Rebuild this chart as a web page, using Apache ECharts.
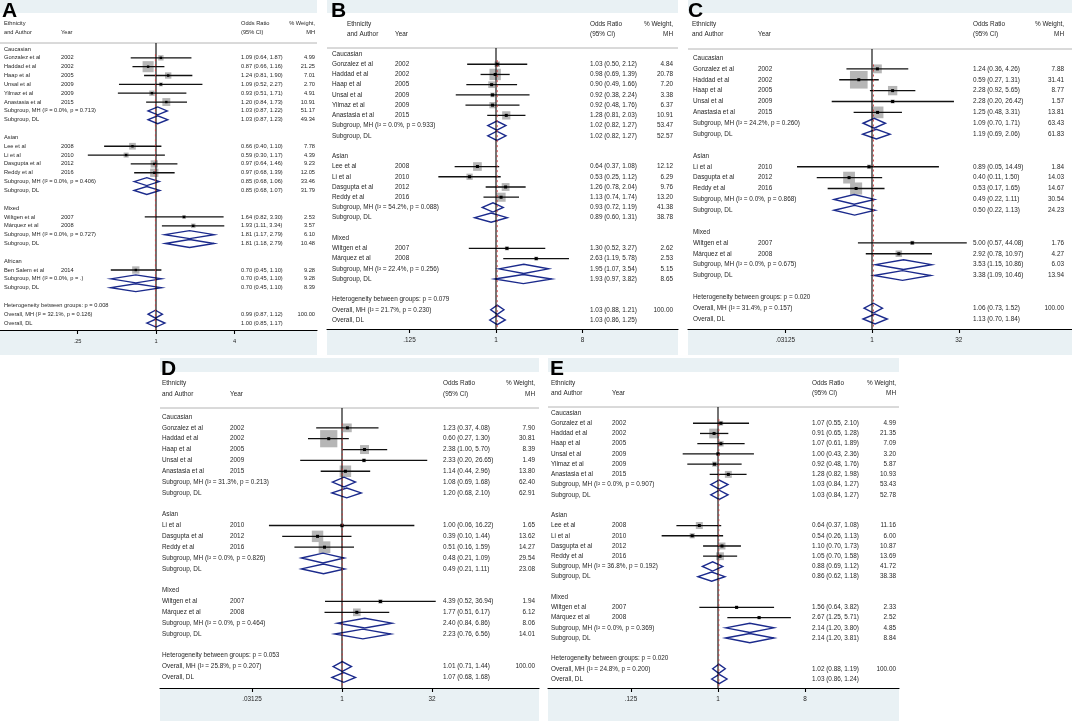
<!DOCTYPE html>
<html>
<head>
<meta charset="utf-8">
<script src="https://cdn.jsdelivr.net/npm/echarts@6/dist/echarts.min.js"></script>
<style>
  html, body { margin: 0; padding: 0; background: #fff; }
  #chart { width: 1072px; height: 721px; }
</style>
</head>
<body>
<div id="chart"></div>
<script>
// ---- data (A..E) ----
// studies: group, author, year, OR, lower, upper, % weight (MH)
// subgroups: group, I2, p, MH OR, lo, hi, weight, DL OR, lo, hi, weight
// overall: p between groups, I2, p, MH OR, lo, hi, weight, DL OR, lo, hi

const studiesA = [
  ['Caucasian', 'Gonzalez et al', 2002, 1.09, 0.64, 1.87, 4.99],
  ['Caucasian', 'Haddad et al', 2002, 0.87, 0.66, 1.16, 21.25],
  ['Caucasian', 'Haap et al', 2005, 1.24, 0.81, 1.90, 7.01],
  ['Caucasian', 'Unsal et al', 2009, 1.09, 0.52, 2.27, 2.70],
  ['Caucasian', 'Yilmaz et al', 2009, 0.93, 0.51, 1.71, 4.91],
  ['Caucasian', 'Anastasia et al', 2015, 1.20, 0.84, 1.73, 10.91],
  ['Asian', 'Lee et al', 2008, 0.66, 0.40, 1.10, 7.78],
  ['Asian', 'Li et al', 2010, 0.59, 0.30, 1.17, 4.39],
  ['Asian', 'Dasgupta et al', 2012, 0.97, 0.64, 1.46, 9.23],
  ['Asian', 'Reddy et al', 2016, 0.97, 0.68, 1.39, 12.05],
  ['Mixed', 'Wiltgen et al', 2007, 1.64, 0.82, 3.30, 2.53],
  ['Mixed', 'Márquez et al', 2008, 1.93, 1.11, 3.34, 3.57],
  ['African', 'Ben Salem et al', 2014, 0.70, 0.45, 1.10, 9.28]
];
const subgroupsA = [
  ['Caucasian', '0.0%', '0.713', 1.03, 0.87, 1.22, 51.17, 1.03, 0.87, 1.23, 49.34],
  ['Asian', '0.0%', '0.406', 0.85, 0.68, 1.06, 33.46, 0.85, 0.68, 1.07, 31.79],
  ['Mixed', '0.0%', '0.727', 1.81, 1.17, 2.79, 6.10, 1.81, 1.18, 2.79, 10.48],
  ['African', '0.0%', '.', 0.70, 0.45, 1.10, 9.28, 0.70, 0.45, 1.10, 8.39]
];
const overallA = ['0.008', '32.1%', '0.126', 0.99, 0.87, 1.12, 100.00, 1.00, 0.85, 1.17];
const ticksA = [0.25, 1, 4];
const tickLabelsA = ['.25', '1', '4'];

const studiesB = [
  ['Caucasian', 'Gonzalez et al', 2002, 1.03, 0.50, 2.12, 4.84],
  ['Caucasian', 'Haddad et al', 2002, 0.98, 0.69, 1.39, 20.78],
  ['Caucasian', 'Haap et al', 2005, 0.90, 0.49, 1.66, 7.20],
  ['Caucasian', 'Unsal et al', 2009, 0.92, 0.38, 2.24, 3.38],
  ['Caucasian', 'Yilmaz et al', 2009, 0.92, 0.48, 1.76, 6.37],
  ['Caucasian', 'Anastasia et al', 2015, 1.28, 0.81, 2.03, 10.91],
  ['Asian', 'Lee et al', 2008, 0.64, 0.37, 1.08, 12.12],
  ['Asian', 'Li et al', 2010, 0.53, 0.25, 1.12, 6.29],
  ['Asian', 'Dasgupta et al', 2012, 1.26, 0.78, 2.04, 9.76],
  ['Asian', 'Reddy et al', 2016, 1.13, 0.74, 1.74, 13.20],
  ['Mixed', 'Wiltgen et al', 2007, 1.30, 0.52, 3.27, 2.62],
  ['Mixed', 'Márquez et al', 2008, 2.63, 1.19, 5.78, 2.53]
];
const subgroupsB = [
  ['Caucasian', '0.0%', '0.933', 1.02, 0.82, 1.27, 53.47, 1.02, 0.82, 1.27, 52.57],
  ['Asian', '54.2%', '0.088', 0.93, 0.72, 1.19, 41.38, 0.89, 0.60, 1.31, 38.78],
  ['Mixed', '22.4%', '0.256', 1.95, 1.07, 3.54, 5.15, 1.93, 0.97, 3.82, 8.65]
];
const overallB = ['0.079', '21.7%', '0.230', 1.03, 0.88, 1.21, 100.00, 1.03, 0.86, 1.25];
const ticksB = [0.125, 1, 8];
const tickLabelsB = ['.125', '1', '8'];

const studiesC = [
  ['Caucasian', 'Gonzalez et al', 2002, 1.24, 0.36, 4.26, 7.88],
  ['Caucasian', 'Haddad et al', 2002, 0.59, 0.27, 1.31, 31.41],
  ['Caucasian', 'Haap et al', 2005, 2.28, 0.92, 5.65, 8.77],
  ['Caucasian', 'Unsal et al', 2009, 2.28, 0.20, 26.42, 1.57],
  ['Caucasian', 'Anastasia et al', 2015, 1.25, 0.48, 3.31, 13.81],
  ['Asian', 'Li et al', 2010, 0.89, 0.05, 14.49, 1.84],
  ['Asian', 'Dasgupta et al', 2012, 0.40, 0.11, 1.50, 14.03],
  ['Asian', 'Reddy et al', 2016, 0.53, 0.17, 1.65, 14.67],
  ['Mixed', 'Wiltgen et al', 2007, 5.00, 0.57, 44.08, 1.76],
  ['Mixed', 'Márquez et al', 2008, 2.92, 0.78, 10.97, 4.27]
];
const subgroupsC = [
  ['Caucasian', '24.2%', '0.260', 1.09, 0.70, 1.71, 63.43, 1.19, 0.69, 2.06, 61.83],
  ['Asian', '0.0%', '0.868', 0.49, 0.22, 1.11, 30.54, 0.50, 0.22, 1.13, 24.23],
  ['Mixed', '0.0%', '0.675', 3.53, 1.15, 10.86, 6.03, 3.38, 1.09, 10.46, 13.94]
];
const overallC = ['0.020', '31.4%', '0.157', 1.06, 0.73, 1.52, 100.00, 1.13, 0.70, 1.84];
const ticksC = [0.03125, 1, 32];
const tickLabelsC = ['.03125', '1', '32'];

const studiesD = [
  ['Caucasian', 'Gonzalez et al', 2002, 1.23, 0.37, 4.08, 7.90],
  ['Caucasian', 'Haddad et al', 2002, 0.60, 0.27, 1.30, 30.81],
  ['Caucasian', 'Haap et al', 2005, 2.38, 1.00, 5.70, 8.39],
  ['Caucasian', 'Unsal et al', 2009, 2.33, 0.20, 26.65, 1.49],
  ['Caucasian', 'Anastasia et al', 2015, 1.14, 0.44, 2.96, 13.80],
  ['Asian', 'Li et al', 2010, 1.00, 0.06, 16.22, 1.65],
  ['Asian', 'Dasgupta et al', 2012, 0.39, 0.10, 1.44, 13.62],
  ['Asian', 'Reddy et al', 2016, 0.51, 0.16, 1.59, 14.27],
  ['Mixed', 'Wiltgen et al', 2007, 4.39, 0.52, 36.94, 1.94],
  ['Mixed', 'Márquez et al', 2008, 1.77, 0.51, 6.17, 6.12]
];
const subgroupsD = [
  ['Caucasian', '31.3%', '0.213', 1.08, 0.69, 1.68, 62.40, 1.20, 0.68, 2.10, 62.91],
  ['Asian', '0.0%', '0.826', 0.48, 0.21, 1.09, 29.54, 0.49, 0.21, 1.11, 23.08],
  ['Mixed', '0.0%', '0.464', 2.40, 0.84, 6.86, 8.06, 2.23, 0.76, 6.56, 14.01]
];
const overallD = ['0.053', '25.8%', '0.207', 1.01, 0.71, 1.44, 100.00, 1.07, 0.68, 1.68];
const ticksD = [0.03125, 1, 32];
const tickLabelsD = ['.03125', '1', '32'];

const studiesE = [
  ['Caucasian', 'Gonzalez et al', 2002, 1.07, 0.55, 2.10, 4.99],
  ['Caucasian', 'Haddad et al', 2002, 0.91, 0.65, 1.28, 21.35],
  ['Caucasian', 'Haap et al', 2005, 1.07, 0.61, 1.89, 7.09],
  ['Caucasian', 'Unsal et al', 2009, 1.00, 0.43, 2.36, 3.20],
  ['Caucasian', 'Yilmaz et al', 2009, 0.92, 0.48, 1.76, 5.87],
  ['Caucasian', 'Anastasia et al', 2015, 1.28, 0.82, 1.98, 10.93],
  ['Asian', 'Lee et al', 2008, 0.64, 0.37, 1.08, 11.16],
  ['Asian', 'Li et al', 2010, 0.54, 0.26, 1.13, 6.00],
  ['Asian', 'Dasgupta et al', 2012, 1.10, 0.70, 1.73, 10.87],
  ['Asian', 'Reddy et al', 2016, 1.05, 0.70, 1.58, 13.69],
  ['Mixed', 'Wiltgen et al', 2007, 1.56, 0.64, 3.82, 2.33],
  ['Mixed', 'Márquez et al', 2008, 2.67, 1.25, 5.71, 2.52]
];
const subgroupsE = [
  ['Caucasian', '0.0%', '0.907', 1.03, 0.84, 1.27, 53.43, 1.03, 0.84, 1.27, 52.78],
  ['Asian', '36.8%', '0.192', 0.88, 0.69, 1.12, 41.72, 0.86, 0.62, 1.18, 38.38],
  ['Mixed', '0.0%', '0.369', 2.14, 1.20, 3.80, 4.85, 2.14, 1.20, 3.81, 8.84]
];
const overallE = ['0.020', '24.8%', '0.200', 1.02, 0.88, 1.19, 100.00, 1.03, 0.86, 1.24];
const ticksE = [0.125, 1, 8];
const tickLabelsE = ['.125', '1', '8'];

// ---- layout of each panel (pixels) ----
const layoutA = { letter: 'A', left: 0, right: 317, top: 0, bottom: 355, stripH: 13, lineY: 43, axisY: 330,
  row0: 49, step: 8.84, oneX: 156, unit: 39.25, headX: 4, textX: 4, yearX: 61, orX: 241, wtX: 315,
  head1: 23, head2: 32, font: 5.7, box: 2.4, letterX: 2, letterY: 11 };
const layoutB = { letter: 'B', left: 327, right: 678, top: 0, bottom: 355, stripH: 13, lineY: 48, axisY: 329,
  row0: 54, step: 10.23, oneX: 496, unit: 28.83, headX: 347, textX: 332, yearX: 395, orX: 590, wtX: 673,
  head1: 24, head2: 34, font: 6.4, box: 2.5, letterX: 331, letterY: 11 };
const layoutC = { letter: 'C', left: 688, right: 1072, top: 0, bottom: 355, stripH: 13, lineY: 49, axisY: 329,
  row0: 58, step: 10.875, oneX: 872, unit: 17.35, headX: 692, textX: 693, yearX: 758, orX: 973, wtX: 1064,
  head1: 24, head2: 34, font: 6.4, box: 3.15, letterX: 688, letterY: 11 };
const layoutD = { letter: 'D', left: 160, right: 539, top: 358, bottom: 721, stripH: 14, lineY: 408, axisY: 688,
  row0: 417, step: 10.85, oneX: 342, unit: 18, headX: 162, textX: 162, yearX: 230, orX: 443, wtX: 535,
  head1: 383, head2: 394, font: 6.4, box: 3.1, letterX: 161, letterY: 369 };
const layoutE = { letter: 'E', left: 548, right: 899, top: 358, bottom: 721, stripH: 14, lineY: 407, axisY: 688,
  row0: 413, step: 10.23, oneX: 718, unit: 29, headX: 551, textX: 551, yearX: 612, orX: 812, wtX: 896,
  head1: 383, head2: 393, font: 6.4, box: 2.1, letterX: 550, letterY: 369 };

const FONT = '"Liberation Sans", Arial, sans-serif';
const TEXT = '#262626';
const PANEL_BG = '#e9f1f4';
const NAVY = '#1b2a8c';

const panels = [
  { L: layoutA, studies: studiesA, subgroups: subgroupsA, overall: overallA, ticks: ticksA, tickLabels: tickLabelsA },
  { L: layoutB, studies: studiesB, subgroups: subgroupsB, overall: overallB, ticks: ticksB, tickLabels: tickLabelsB },
  { L: layoutC, studies: studiesC, subgroups: subgroupsC, overall: overallC, ticks: ticksC, tickLabels: tickLabelsC },
  { L: layoutD, studies: studiesD, subgroups: subgroupsD, overall: overallD, ticks: ticksD, tickLabels: tickLabelsD },
  { L: layoutE, studies: studiesE, subgroups: subgroupsE, overall: overallE, ticks: ticksE, tickLabels: tickLabelsE }
];

// rows of the forest plot, top to bottom
function buildRows(studies, subgroups, overall) {
  const rows = [];
  subgroups.forEach(sg => {
    rows.push({ kind: 'group', text: sg[0] });
    studies.filter(s => s[0] === sg[0]).forEach(s => {
      rows.push({ kind: 'study', author: s[1], year: s[2], or: s[3], lo: s[4], hi: s[5], wt: s[6] });
    });
    rows.push({ kind: 'pooled', text: 'Subgroup, MH (I\u00b2 = ' + sg[1] + ', p = ' + sg[2] + ')', or: sg[3], lo: sg[4], hi: sg[5], wt: sg[6] });
    rows.push({ kind: 'pooled', text: 'Subgroup, DL', or: sg[7], lo: sg[8], hi: sg[9], wt: sg[10] });
    rows.push({ kind: 'blank' });
  });
  rows.push({ kind: 'note', text: 'Heterogeneity between groups: p = ' + overall[0] });
  rows.push({ kind: 'pooled', text: 'Overall, MH (I\u00b2 = ' + overall[1] + ', p = ' + overall[2] + ')', or: overall[3], lo: overall[4], hi: overall[5], wt: overall[6] });
  rows.push({ kind: 'pooled', text: 'Overall, DL', or: overall[7], lo: overall[8], hi: overall[9] });
  return rows;
}

function ciText(r) {
  return r.or.toFixed(2) + ' (' + r.lo.toFixed(2) + ', ' + r.hi.toFixed(2) + ')';
}

const grid = [], xAxis = [], yAxis = [], series = [], elements = [];

panels.forEach((p, i) => {
  const L = p.L;
  const rows = buildRows(p.studies, p.subgroups, p.overall);
  const yMin = (L.lineY - L.row0) / L.step;
  const yMax = (L.axisY - L.row0) / L.step;

  grid.push({ left: L.left, top: L.lineY, width: L.right - L.left, height: L.axisY - L.lineY,
    containLabel: false, outerBoundsMode: 'none' });

  xAxis.push({
    type: 'log', logBase: 2, gridIndex: i,
    min: Math.pow(2, (L.left - L.oneX) / L.unit),
    max: Math.pow(2, (L.right - L.oneX) / L.unit),
    axisLine: { show: true, onZero: false, lineStyle: { color: '#000', width: 1.2 } },
    axisTick: { show: true, customValues: p.ticks, length: 4, lineStyle: { color: '#000', width: 1.1 } },
    axisLabel: {
      customValues: p.ticks, margin: 8.5, color: TEXT, fontFamily: FONT, fontSize: L.font,
      formatter: v => {
        const k = p.ticks.findIndex(t => Math.abs(Math.log2(t) - Math.log2(v)) < 1e-6);
        return k >= 0 ? p.tickLabels[k] : '';
      }
    },
    splitLine: { show: false },
    minorTick: { show: false }
  });
  yAxis.push({ type: 'value', gridIndex: i, inverse: true, min: yMin, max: yMax, show: false,
    splitLine: { show: false } });

  // study boxes with CI and pooled diamonds
  const markRows = [];
  rows.forEach((r, k) => {
    if (r.or != null) markRows.push([r.or, k, r.lo, r.hi, r.wt || 0, r.kind === 'study' ? 0 : 1]);
  });
  series.push({
    type: 'custom', xAxisIndex: i, yAxisIndex: i, silent: true, z: 3, clip: false,
    data: markRows,
    renderItem: (params, api) => {
      const row = api.value(1);
      const c = api.coord([api.value(0), row]);
      const lo = api.coord([api.value(2), row]);
      const hi = api.coord([api.value(3), row]);
      if (api.value(5) === 0) {
        const s = L.box * Math.sqrt(api.value(4));
        const d = i === 0 ? 2.4 : 3;
        return { type: 'group', children: [
          { type: 'rect', shape: { x: c[0] - s / 2, y: c[1] - s / 2, width: s, height: s }, style: { fill: '#b6b6b6' } },
          { type: 'line', shape: { x1: lo[0], y1: c[1], x2: hi[0], y2: c[1] }, style: { stroke: '#111', lineWidth: 1.3 } },
          { type: 'rect', shape: { x: c[0] - d / 2, y: c[1] - d / 2, width: d, height: d }, style: { fill: '#000' } }
        ] };
      }
      const h = L.step * 0.45;
      return { type: 'polygon',
        shape: { points: [[lo[0], c[1]], [c[0], c[1] - h], [hi[0], c[1]], [c[0], c[1] + h]] },
        style: { fill: '#fff', stroke: NAVY, lineWidth: 1.4 } };
    }
  });

  // no-effect line and overall MH line
  series.push({ type: 'line', xAxisIndex: i, yAxisIndex: i, silent: true, z: 5, symbol: 'none',
    data: [[1, yMin], [1, yMax]], lineStyle: { color: '#000', width: 1.1 } });
  series.push({ type: 'line', xAxisIndex: i, yAxisIndex: i, silent: true, z: 6, symbol: 'none',
    data: [[p.overall[3], 0.6], [p.overall[3], yMax]], lineStyle: { color: '#d23a3a', width: 0.9, type: [2, 3] } });

  // text columns
  series.push({
    type: 'custom', xAxisIndex: i, yAxisIndex: i, silent: true, z: 7, clip: false,
    data: rows.map((r, k) => [1, k]),
    renderItem: (params, api) => {
      const r = rows[params.dataIndex];
      const y = api.coord([1, api.value(1)])[1];
      const t = (text, x, align) => ({ type: 'text', x: x, y: y,
        style: { text: text, fill: TEXT, fontFamily: FONT, fontSize: L.font, align: align, verticalAlign: 'middle' } });
      const kids = [];
      if (r.kind === 'study') {
        kids.push(t(r.author, L.textX, 'left'), t(String(r.year), L.yearX, 'left'));
      } else if (r.text) {
        kids.push(t(r.text, L.textX, 'left'));
      }
      if (r.or != null) kids.push(t(ciText(r), L.orX, 'left'));
      if (r.wt != null) kids.push(t(r.wt.toFixed(2), L.wtX, 'right'));
      return { type: 'group', children: kids };
    }
  });

  // panel background, header and letter
  const w = L.right - L.left;
  elements.push(
    { type: 'rect', z: -10, silent: true, shape: { x: L.left, y: L.top, width: w, height: L.stripH }, style: { fill: PANEL_BG } },
    { type: 'rect', z: -10, silent: true, shape: { x: L.left, y: L.axisY, width: w, height: L.bottom - L.axisY }, style: { fill: PANEL_BG } },
    { type: 'line', z: 1, silent: true, shape: { x1: L.left, y1: L.lineY, x2: L.right, y2: L.lineY }, style: { stroke: '#b4b4b4', lineWidth: 1 } },
    { type: 'text', z: 10, x: L.letterX, y: L.letterY, style: { text: L.letter, fill: '#000', font: 'bold 21px "Liberation Sans", Arial, sans-serif', verticalAlign: 'middle' } }
  );
  const head = (text, x, y, align) => ({ type: 'text', z: 10, x: x, y: y, silent: true,
    style: { text: text, fill: TEXT, fontFamily: FONT, fontSize: L.font, align: align, verticalAlign: 'middle' } });
  elements.push(
    head('Ethnicity', L.headX, L.head1, 'left'),
    head('and Author', L.headX, L.head2, 'left'),
    head('Year', L.yearX, L.head2, 'left'),
    head('Odds Ratio', L.orX, L.head1, 'left'),
    head('(95% CI)', L.orX, L.head2, 'left'),
    head('% Weight,', L.wtX, L.head1, 'right'),
    head('MH', L.wtX, L.head2, 'right')
  );
});

const chart = echarts.init(document.getElementById('chart'));
chart.setOption({
  animation: false,
  backgroundColor: '#fff',
  grid: grid,
  xAxis: xAxis,
  yAxis: yAxis,
  series: series,
  graphic: { elements: elements }
});
</script>
</body>
</html>
